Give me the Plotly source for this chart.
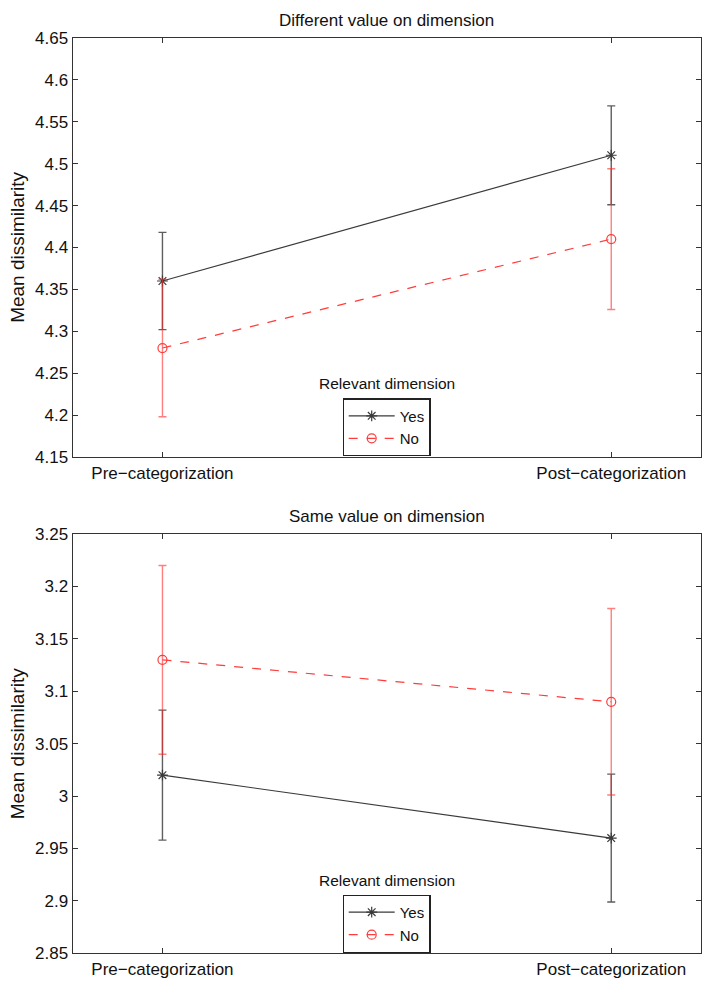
import plotly.graph_objects as go

# --- DATA ---
stages = [1, 2]
stage_labels = ["Pre\u2212categorization", "Post\u2212categorization"]

# top panel: different value on dimension
diff_yes = [4.36, 4.51]
diff_yes_err = [0.058, 0.059]
diff_no = [4.28, 4.41]
diff_no_err = [0.082, 0.084]

# bottom panel: same value on dimension
same_yes = [3.02, 2.96]
same_yes_err = [0.062, 0.061]
same_no = [3.13, 3.09]
same_no_err = [0.090, 0.089]

top_ticks = [4.15, 4.2, 4.25, 4.3, 4.35, 4.4, 4.45, 4.5, 4.55, 4.6, 4.65]
bottom_ticks = [2.85, 2.9, 2.95, 3, 3.05, 3.1, 3.15, 3.2, 3.25]

FONT = "Liberation Sans, Arial, Helvetica, sans-serif"
W, H = 709, 996
BLACK = "#3a3a3a"
RED = "#ff3b3b"


def px(v):
    return v / W


def py_(v):
    return 1 - v / H


def series(x, y, err, name, color, errcolor, symbol, dash, xa, ya, legend):
    return go.Scatter(
        x=x, y=y, name=name, mode="lines+markers",
        line=dict(color=color, width=1.2, dash=dash),
        marker=dict(symbol=symbol, size=9, color=color,
                    line=dict(color=color, width=1.2)),
        error_y=dict(type="data", array=err, visible=True,
                     color=errcolor, thickness=1.4, width=4),
        xaxis=xa, yaxis=ya, legend=legend,
    )


fig = go.Figure()
fig.add_trace(series(stages, diff_yes, diff_yes_err, "Yes", BLACK, "rgba(40,40,40,0.75)",
                     "asterisk-open", "solid", "x", "y", "legend"))
fig.add_trace(series(stages, diff_no, diff_no_err, "No", RED, "rgba(255,40,40,0.6)",
                     "circle-open", "dash", "x", "y", "legend"))
fig.add_trace(series(stages, same_yes, same_yes_err, "Yes", BLACK, "rgba(40,40,40,0.75)",
                     "asterisk-open", "solid", "x2", "y2", "legend2"))
fig.add_trace(series(stages, same_no, same_no_err, "No", RED, "rgba(255,40,40,0.6)",
                     "circle-open", "dash", "x2", "y2", "legend2"))

xdom = [px(72.7), px(701)]
axis_common = dict(
    showline=True, linecolor="#333333", linewidth=1.3, mirror="ticks",
    ticks="inside", ticklen=5, tickcolor="#333333", tickwidth=1.2,
    showgrid=False, zeroline=False,
    tickfont=dict(family=FONT, size=17, color="#111111"),
)
legend_common = dict(
    xanchor="center", yanchor="middle",
    bordercolor="#222222", borderwidth=1.2, bgcolor="white",
    font=dict(family=FONT, size=15, color="#111111"),
    itemwidth=46, tracegroupgap=0,
)

fig.update_layout(
    width=W, height=H,
    margin=dict(l=0, r=0, t=0, b=0),
    paper_bgcolor="white", plot_bgcolor="white",
    font=dict(family=FONT, color="#111111"),
    xaxis=dict(domain=xdom, anchor="y", range=[0.8, 2.2],
               tickvals=stages, ticktext=stage_labels, **axis_common),
    yaxis=dict(domain=[py_(456.7), py_(29.5)], anchor="x", range=[4.15, 4.65],
               tickvals=top_ticks, ticktext=[f"{t:g}" for t in top_ticks], **axis_common),
    xaxis2=dict(domain=xdom, anchor="y2", range=[0.8, 2.2],
                tickvals=stages, ticktext=stage_labels, **axis_common),
    yaxis2=dict(domain=[py_(962.7), py_(535.3)], anchor="x2", range=[2.85, 3.25],
                tickvals=bottom_ticks, ticktext=[f"{t:g}" for t in bottom_ticks], **axis_common),
    legend=dict(x=px(386.5), y=py_(426.5), **legend_common),
    legend2=dict(x=px(386.5), y=py_(932.5), **legend_common),
)

notes = [
    ("Different value on dimension", 386.5, 12, 17, 0),
    ("Same value on dimension", 386.5, 517, 17, 0),
    ("Relevant dimension", 386.5, 382, 15.5, 0),
    ("Relevant dimension", 386.5, 888, 15.5, 0),
    ("Mean dissimilarity", 17.5, 243, 19, -90),
    ("Mean dissimilarity", 17.5, 749, 19, -90),
]
for text, x, y, size, angle in notes:
    fig.add_annotation(text=text, x=px(x), y=py_(y), xref="paper", yref="paper",
                       xanchor="center", yanchor="middle", showarrow=False,
                       textangle=angle, font=dict(family=FONT, size=size, color="#111111"))

# page body has a default 8px margin and may scroll; drop both so the figure fills the window
fig.write_html(
    "out.html",
    config={"displayModeBar": False},
    post_script="document.body.style.margin = '0'; document.body.style.overflow = 'hidden';",
)
